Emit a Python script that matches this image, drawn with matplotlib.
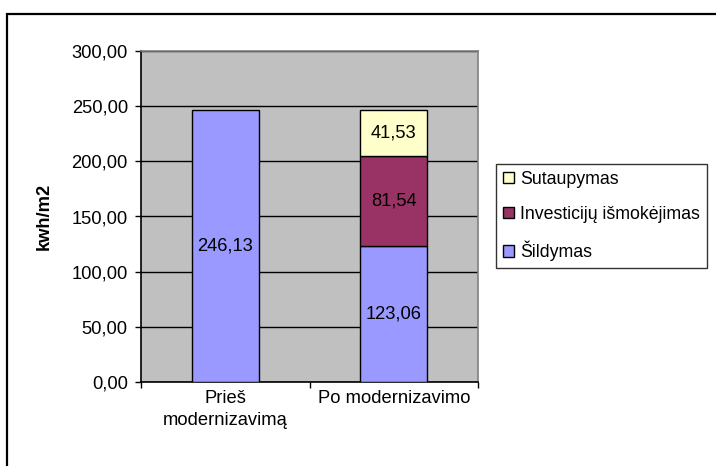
import matplotlib.pyplot as plt
from matplotlib.patches import Rectangle
from matplotlib.ticker import FuncFormatter, FixedLocator

plt.rcParams['font.family'] = ['Liberation Sans', 'DejaVu Sans']

categories = ["Prieš\nmodernizavimą", "Po modernizavimo"]
sildymas = [246.13, 123.06]
investicijos = [0, 81.54]
sutaupymas = [0, 41.53]

C_BLUE = "#9999FF"
C_MAROON = "#993366"
C_YELLOW = "#FFFFCC"
GRAY = "#C0C0C0"
FS = 13.2


def lt(v):
    return f"{v:.2f}".replace(".", ",")


fig = plt.figure(figsize=(7.16, 4.66), dpi=100)
fig.patch.set_facecolor("white")
ax = fig.add_axes([141 / 716, 1 - 382 / 466, 337 / 716, 331 / 466])
ax.set_facecolor(GRAY)

x = list(range(len(categories)))
w = 0.4
bottom2 = [a + b for a, b in zip(sildymas, investicijos)]
b1 = ax.bar(x, sildymas, w, color=C_BLUE, edgecolor="black", linewidth=1, zorder=3, label="Šildymas")
b2 = ax.bar(x[1:], investicijos[1:], w, bottom=sildymas[1:], color=C_MAROON, edgecolor="black",
            linewidth=1, zorder=3, label="Investicijų išmokėjimas")
b3 = ax.bar(x[1:], sutaupymas[1:], w, bottom=bottom2[1:], color=C_YELLOW, edgecolor="black",
            linewidth=1, zorder=3, label="Sutaupymas")

for i, v in enumerate(sildymas):
    ax.text(x[i], v / 2, lt(v), ha="center", va="center", fontsize=FS, zorder=4)
for i in x[1:]:
    ax.text(i, sildymas[i] + investicijos[i] / 2, lt(investicijos[i]), ha="center", va="center",
            fontsize=FS, zorder=4)
    ax.text(i, bottom2[i] + sutaupymas[i] / 2, lt(sutaupymas[i]), ha="center", va="center",
            fontsize=FS, zorder=4)

ax.set_xlim(-0.5, 1.5)
ax.set_ylim(0, 300)
ax.set_yticks(range(0, 301, 50))
ax.yaxis.set_major_formatter(FuncFormatter(lambda v, p: lt(v)))
ax.yaxis.grid(True, color="black", linewidth=1, zorder=1)
ax.set_axisbelow(True)

ax.xaxis.set_major_locator(FixedLocator([-0.5, 0.5, 1.5]))
ax.xaxis.set_major_formatter(FuncFormatter(lambda v, p: ""))
ax.xaxis.set_minor_locator(FixedLocator(x))
ax.set_xticklabels(categories, minor=True, fontsize=FS, linespacing=1.35)
ax.tick_params(axis="x", which="minor", length=0, pad=6)
ax.tick_params(axis="x", which="major", length=4, width=1, direction="out")
ax.tick_params(axis="y", length=4.5, width=1, direction="out", labelsize=FS, pad=5)

for s in ("left", "bottom"):
    ax.spines[s].set_color("black")
    ax.spines[s].set_linewidth(1.2)
for s in ("top", "right"):
    ax.spines[s].set_color("#808080")
    ax.spines[s].set_linewidth(1.2)

ax.set_ylabel("kwh/m2", fontsize=FS, fontweight="bold")
ax.yaxis.set_label_coords(-0.262, 0.5)

leg = fig.legend(handles=[b3, b2, b1], loc="upper left", bbox_to_anchor=(496 / 716, 1 - 164 / 466),
                 frameon=True, fancybox=False, edgecolor="black", fontsize=12.8,
                 handlelength=0.6, handleheight=0.6, handletextpad=0.35, borderpad=0.4,
                 labelspacing=1.0, borderaxespad=0)
leg.get_frame().set_linewidth(1)

fig.add_artist(Rectangle((7 / 716, -0.05), 1.1, 1 - 14 / 466 + 0.05, transform=fig.transFigure,
                         fill=False, edgecolor="black", linewidth=1.6))

fig.savefig("out.png", dpi=100, facecolor="white")
